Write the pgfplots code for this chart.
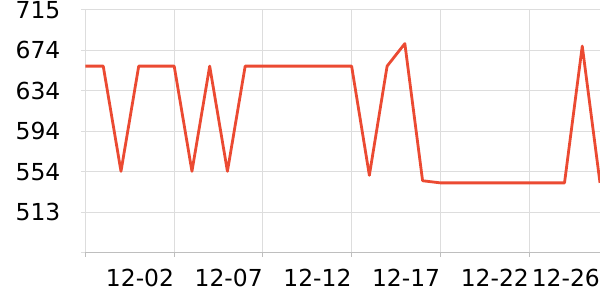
\documentclass[border=0pt]{standalone}
\usepackage{pgfplots}
\pgfplotsset{compat=1.18}
\usepackage{fontspec}
\setmainfont{DejaVu Sans}
\definecolor{lineC}{RGB}{235,74,50}
\definecolor{gridC}{RGB}{221,221,221}
\definecolor{axC}{RGB}{190,190,190}
\begin{document}
\begin{tikzpicture}
\useasboundingbox (-85.5bp,-47.5bp) rectangle (514.5bp,252.5bp);
\begin{axis}[
  at={(0,0)}, anchor=south west,
  scale only axis, width=514.5bp, height=242.5bp,
  xmin=0, xmax=29, ymin=473, ymax=715,
  xtick={0,5,10,15,20,25,29},
  xticklabels={,12-02,12-07,12-12,12-17,12-22,12-26},
  ytick={473,513.33,553.67,594,634.33,674.67,715},
  yticklabels={,513,554,594,634,674,715},
  /pgf/number format/assume math mode=true,
  tick label style={font=\fontsize{23.5}{27}\selectfont},
  xticklabel style={anchor=north east, inner sep=0pt, yshift=-12.5bp},
  yticklabel style={anchor=east, inner sep=0pt, xshift=-21bp},
  grid=major,
  major grid style={gridC, line width=1bp},
  axis x line*=bottom, axis y line*=left,
  x axis line style={axC, line width=1bp, -},
  y axis line style={draw=none},
  tick align=outside,
  major tick length=4bp,
  xtick style={axC, line width=1bp},
  ytick style={gridC, line width=1bp},
  clip=false,
]
\addplot[lineC, line width=2.8bp, line join=round] coordinates {
(0,659) (1,659) (2,554) (3,659) (4,659) (5,659) (6,554) (7,659) (8,554) (9,659)
(10,659) (11,659) (12,659) (13,659) (14,659) (15,659) (16,550) (17,659) (18,681.5) (19,544.6)
(20,542.5) (21,542.5) (22,542.5) (23,542.5) (24,542.5) (25,542.5) (26,542.5) (27,542.5) (28,679) (29,542.5)
};
\end{axis}
\end{tikzpicture}
\end{document}
